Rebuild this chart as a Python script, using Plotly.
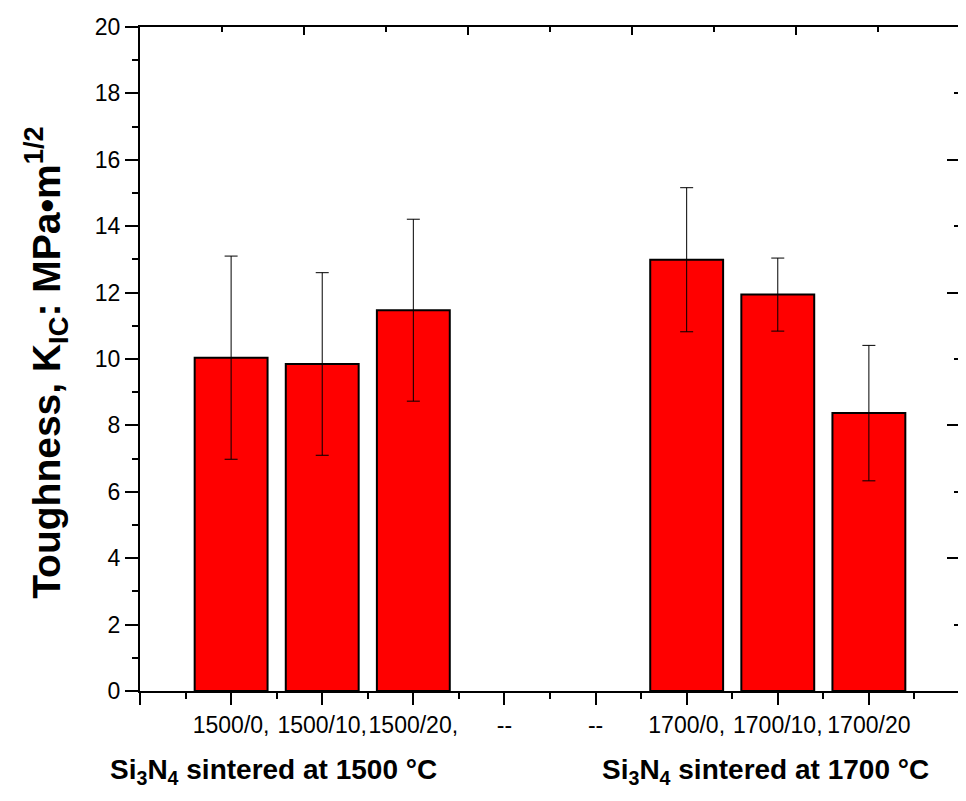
import plotly.graph_objects as go

# ---- data ----
tick_labels = ["1500/0,", "1500/10,", "1500/20,", "--", "--", "1700/0,", "1700/10,", "1700/20"]
toughness = [10.04, 9.85, 11.47, None, None, 12.99, 11.94, 8.37]
toughness_err = [3.06, 2.75, 2.74, None, None, 2.17, 1.10, 2.04]
group_titles = ["<b>Si<sub>3</sub>N<sub>4</sub> sintered at 1500 °C</b>",
                "<b>Si<sub>3</sub>N<sub>4</sub> sintered at 1700 °C</b>"]
y_title = "<b>Toughness, K<sub>IC</sub>: MPa•m<sup>1/2</sup></b>"

positions = list(range(1, len(tick_labels) + 1))
FONT = "Arial, Liberation Sans, sans-serif"

fig = go.Figure()
fig.add_trace(go.Bar(
    x=positions, y=toughness, width=0.8,
    marker=dict(color="#FF0000", line=dict(color="black", width=2)),
    error_y=dict(type="data", array=toughness_err, visible=True,
                 color="black", thickness=1, width=6.5),
    showlegend=False,
))
# helper trace to activate the mirrored (top/right) axes
fig.add_trace(go.Scatter(x=[], y=[], xaxis="x2", yaxis="y2", showlegend=False))

fig.update_layout(
    width=958, height=793,
    margin=dict(l=132, r=6, t=16, b=110),
    paper_bgcolor="white", plot_bgcolor="white",
    font=dict(family=FONT, size=23, color="black"),
    xaxis=dict(
        range=[0, 9], tickmode="array",
        tickvals=[0] + positions + [9], ticktext=[""] + tick_labels + [""],
        tickangle=0,
        ticks="outside", ticklen=12, tickwidth=2, tickcolor="black",
        showline=True, linewidth=2, linecolor="black",
        showgrid=False, zeroline=False,
        tickfont=dict(family=FONT, size=23),
        minor=dict(tick0=0.5, dtick=1, ticks="outside", ticklen=6, tickwidth=2, tickcolor="black"),
    ),
    yaxis=dict(
        range=[0, 20], tick0=0, dtick=2,
        ticks="outside", ticklen=13, tickwidth=2, tickcolor="black",
        showline=True, linewidth=2, linecolor="black",
        showgrid=False, zeroline=False,
        tickfont=dict(family=FONT, size=23),
        minor=dict(tick0=1, dtick=2, ticks="outside", ticklen=6, tickwidth=2, tickcolor="black"),
    ),
    xaxis2=dict(
        overlaying="x", side="top", anchor="y", range=[0, 10],
        tick0=0, dtick=2, ticks="inside", ticklen=8, tickwidth=2, tickcolor="black",
        showticklabels=False, showline=True, linewidth=2, linecolor="black",
        showgrid=False, zeroline=False,
        minor=dict(tick0=1, dtick=2, ticks="inside", ticklen=5, tickwidth=2, tickcolor="black"),
    ),
    yaxis2=dict(
        overlaying="y", side="right", anchor="x", range=[0, 20],
        tick0=0, dtick=4, ticks="inside", ticklen=13, tickwidth=2, tickcolor="black",
        showticklabels=False, showline=True, linewidth=2, linecolor="black",
        showgrid=False, zeroline=False,
        minor=dict(tick0=2, dtick=4, ticks="inside", ticklen=6, tickwidth=2, tickcolor="black"),
    ),
    annotations=[
        dict(text=group_titles[0], xref="paper", yref="paper", x=0.163, y=-0.1214,
             showarrow=False, font=dict(family=FONT, size=28, color="black"),
             xanchor="center", yanchor="middle"),
        dict(text=group_titles[1], xref="paper", yref="paper", x=0.763, y=-0.1214,
             showarrow=False, font=dict(family=FONT, size=28, color="black"),
             xanchor="center", yanchor="middle"),
        dict(text=y_title, xref="paper", yref="paper", x=-0.114, y=0.495,
             textangle=-90, showarrow=False,
             font=dict(family=FONT, size=39, color="black"),
             xanchor="center", yanchor="middle"),
    ],
)

fig.write_html("out.html")
